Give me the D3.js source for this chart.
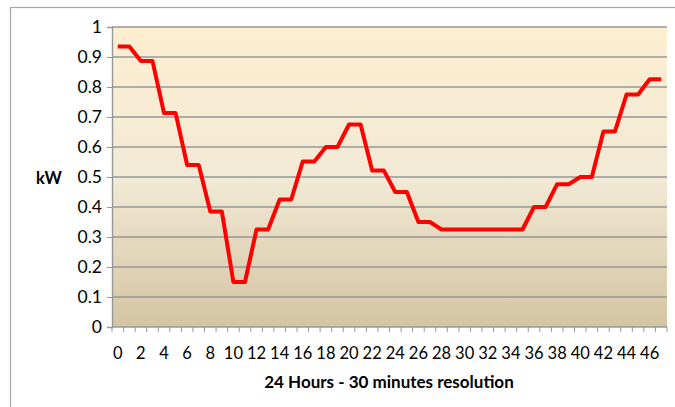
<!DOCTYPE html>
<html>
<head>
<meta charset="utf-8">
<script src="https://cdn.jsdelivr.net/npm/d3@7"></script>
<style>
  body { margin: 0; background: #fff; }
  text { font-family: Lato, "Open Sans", sans-serif; fill: #000; }
</style>
</head>
<body>
<div id="chart"></div>
<script>
// half-hour slots 0..47 and load in kW
var slots = d3.range(48)
var load = [
  0.935, 0.935, 0.887, 0.887, 0.713, 0.713, 0.54, 0.54, 0.385, 0.385,
  0.15, 0.15, 0.325, 0.325, 0.425, 0.425, 0.552, 0.552, 0.6, 0.6,
  0.675, 0.675, 0.522, 0.522, 0.45, 0.45, 0.35, 0.35, 0.325, 0.325,
  0.325, 0.325, 0.325, 0.325, 0.325, 0.325, 0.40, 0.40, 0.476, 0.476,
  0.50, 0.50, 0.652, 0.652, 0.775, 0.775, 0.826, 0.826
]
var yTicks = [0, 0.1, 0.2, 0.3, 0.4, 0.5, 0.6, 0.7, 0.8, 0.9, 1]
var xLabels = d3.range(0, 48, 2)

var width = 675
var height = 407
var margin = {top: 27, right: 8, bottom: 80, left: 112}

var svg = d3.select("#chart")
  .append("svg")
  .attr("width", width)
  .attr("height", height)

// outer chart border
svg.append("rect")
  .attr("x", 10.5)
  .attr("y", 7.5)
  .attr("width", 700)
  .attr("height", 420)
  .attr("fill", "#fff")
  .attr("stroke", "#a6a6a6")
  .attr("stroke-width", 1.2)

var defs = svg.append("defs")
var grad = defs.append("linearGradient")
  .attr("id", "bg")
  .attr("x1", 0).attr("y1", 0).attr("x2", 0).attr("y2", 1)
grad.append("stop").attr("offset", "0%").attr("stop-color", "#fdeed0")
grad.append("stop").attr("offset", "50%").attr("stop-color", "#f2ead6")
grad.append("stop").attr("offset", "100%").attr("stop-color", "#d3c4a1")

var x = d3.scaleBand()
  .domain(slots)
  .range([margin.left, width - margin.right])

var y = d3.scaleLinear()
  .domain([0, 1])
  .range([height - margin.bottom, margin.top])

// plot background
svg.append("rect")
  .attr("x", margin.left)
  .attr("y", y(1))
  .attr("width", x.range()[1] - margin.left)
  .attr("height", y(0) - y(1))
  .attr("fill", "url(#bg)")

// gridlines
svg.append("g")
  .selectAll("line")
  .data(yTicks.slice(1))
  .join("line")
    .attr("x1", margin.left)
    .attr("x2", x.range()[1])
    .attr("y1", d => y(d))
    .attr("y2", d => y(d))
    .attr("stroke", "#979797")
    .attr("stroke-width", 1.4)

// y axis
var yAxis = svg.append("g")
  .attr("transform", "translate(" + margin.left + ",0)")
  .call(d3.axisLeft(y).tickValues(yTicks).tickSize(5).tickPadding(5)
    .tickFormat(d => d === 0 ? "0" : d === 1 ? "1" : d3.format(".1f")(d)))
yAxis.select(".domain").attr("stroke", "#979797").attr("stroke-width", 1.4)
yAxis.selectAll(".tick line").attr("stroke", "#979797")
yAxis.selectAll("text").style("font-size", "17.5px")

// x axis: ticks between categories
var xAxis = svg.append("g")
  .attr("transform", "translate(0," + y(0) + ")")
xAxis.append("line")
  .attr("x1", margin.left).attr("x2", x.range()[1])
  .attr("stroke", "#979797").attr("stroke-width", 1.4)
xAxis.selectAll("line.tk")
  .data(d3.range(49))
  .join("line")
    .attr("class", "tk")
    .attr("x1", i => margin.left + i * x.step())
    .attr("x2", i => margin.left + i * x.step())
    .attr("y1", 0).attr("y2", 5)
    .attr("stroke", "#979797")
xAxis.selectAll("text")
  .data(xLabels)
  .join("text")
    .attr("x", d => x(d) + x.bandwidth() / 2)
    .attr("y", 32)
    .attr("text-anchor", "middle")
    .style("font-size", "16.5px")
    .text(d => d)

// axis titles
svg.append("text")
  .attr("x", 49)
  .attr("y", 184)
  .attr("text-anchor", "middle")
  .style("font-size", "16.5px")
  .style("font-weight", "bold")
  .text("kW")

svg.append("text")
  .attr("x", 389)
  .attr("y", 388)
  .attr("text-anchor", "middle")
  .style("font-size", "17px")
  .style("font-weight", "bold")
  .text("24 Hours - 30 minutes resolution")

// load line
var line = d3.line()
  .x((d, i) => x(slots[i]) + x.bandwidth() / 2)
  .y(d => y(d))

svg.append("path")
  .datum(load)
  .attr("fill", "none")
  .attr("stroke", "#ff0000")
  .attr("stroke-width", 4)
  .attr("stroke-linejoin", "round")
  .attr("d", line)
</script>
</body>
</html>
